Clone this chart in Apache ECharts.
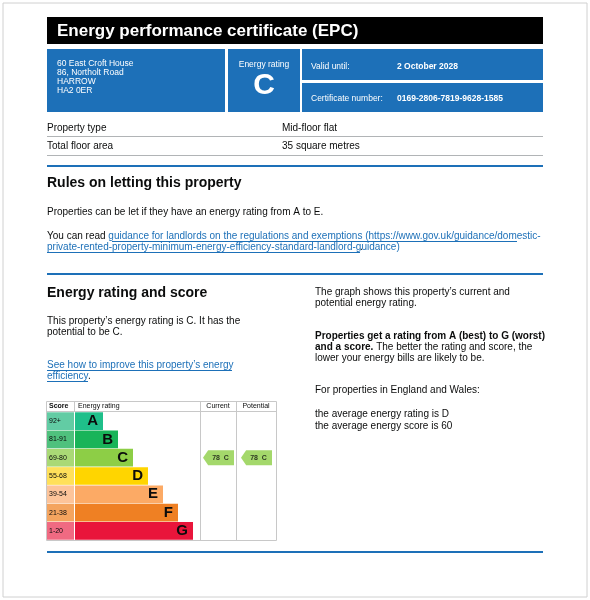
<!DOCTYPE html>
<html><head><meta charset="utf-8">
<script src="https://cdn.jsdelivr.net/npm/echarts@6/dist/echarts.min.js"></script>
<style>html,body{margin:0;padding:0;background:#fff}#c{width:590px;height:600px}</style>
</head><body><div id="c"></div>
<script>
const bands = ['A','B','C','D','E','F','G'];
const scores = ['92+','81-91','69-80','55-68','39-54','21-38','1-20'];
const barLengths = [28,43,58,73,88,103,118];
const bandColors = ['#1fbf8a','#19b459','#8dce46','#ffd500','#fcaa65','#ef8023','#e9153b'];
const scoreColors = ['#62cca4','#4fc17d','#aad976','#ffe05a','#fdc49a','#f4a45f','#f06a82'];
const currentRating = {band:'C', score:78};
const potentialRating = {band:'C', score:78};

const F = 'Liberation Sans, Arial, sans-serif';
const blue = '#1d70b8';
function T(x,y,text,size,opt){opt=opt||{};return {type:'text',x:x,y:y,style:Object.assign({text:text,font:(opt.bold?'bold ':'')+size+'px '+F,fill:opt.fill||'#0b0c0c',textVerticalAlign:'middle',textAlign:opt.align||'left'},opt.rich?{rich:opt.rich}:{})}; }
function R(x,y,w,h,fill,stroke){return {type:'rect',shape:{x:x,y:y,width:w,height:h},style:{fill:fill||'none',stroke:stroke||null,lineWidth:1}};}
function L(x1,y1,x2,y2,c,w){return {type:'line',shape:{x1:x1,y1:y1,x2:x2,y2:y2},style:{stroke:c,lineWidth:w||1}};}

const g = [
  R(3,3,584,594,'none','#d0d0d0'),
  R(47,17,496,27,'#000'),
  T(57,31,'Energy performance certificate (EPC)',17,{bold:1,fill:'#fff'}),
  R(47,49,178,63,blue), R(228,49,72,63,blue), R(302,49,241,31,blue), R(302,83,241,29,blue),
  T(57,64,'60 East Croft House',8.5,{fill:'#fff'}),
  T(57,73,'86, Northolt Road',8.5,{fill:'#fff'}),
  T(57,82,'HARROW',8.5,{fill:'#fff'}),
  T(57,91,'HA2 0ER',8.5,{fill:'#fff'}),
  T(264,65,'Energy rating',8.5,{fill:'#fff',align:'center'}),
  T(264,86,'C',30,{bold:1,fill:'#fff',align:'center'}),
  T(311,67,'Valid until:',8.5,{fill:'#fff'}),
  T(397,67,'2 October 2028',8.5,{fill:'#fff',bold:1}),
  T(311,99,'Certificate number:',8.5,{fill:'#fff'}),
  T(397,99,'0169-2806-7819-9628-1585',8.5,{fill:'#fff',bold:1}),
  T(47,128,'Property type',10), T(282,128,'Mid-floor flat',10),
  L(47,136.5,543,136.5,'#b1b4b6'),
  T(47,146,'Total floor area',10), T(282,146,'35 square metres',10),
  L(47,155.5,543,155.5,'#b1b4b6'),
  L(47,166,543,166,blue,2),
  T(47,183,'Rules on letting this property',14,{bold:1}),
  T(47,212,'Properties can be let if they have an energy rating from A to E.',10),
  T(47,236,'You can read {l|guidance for landlords on the regulations and exemptions (https://www.gov.uk/guidance/domestic-}',10,{rich:{l:{fill:blue,font:'10px '+F}}}),
  L(112,241.5,517,241.5,blue),
  T(47,247,'private-rented-property-minimum-energy-efficiency-standard-landlord-guidance)',10,{fill:blue}),
  T(360,247,'.',10),
  L(47,252.5,360,252.5,blue),
  L(47,274,543,274,blue,2),
  T(47,293,'Energy rating and score',14,{bold:1}),
  T(47,321,'This property\u2019s energy rating is C. It has the',10),
  T(47,332,'potential to be C.',10),
  T(47,365,'See how to improve this property\u2019s energy',10,{fill:blue}),
  L(47,370.5,232,370.5,blue),
  T(47,376,'efficiency',10,{fill:blue}), T(88,376,'.',10),
  L(47,381.5,88,381.5,blue),
  T(315,292,'The graph shows this property\u2019s current and',10),
  T(315,303,'potential energy rating.',10),
  T(315,336,'Properties get a rating from A (best) to G (worst)',10,{bold:1}),
  T(315,347,'{b|and a score.} The better the rating and score, the',10,{rich:{b:{font:'bold 10px '+F,fill:'#0b0c0c'}}}),
  T(315,358,'lower your energy bills are likely to be.',10),
  T(315,390,'For properties in England and Wales:',10),
  T(315,414,'the average energy rating is D',10),
  T(315,426,'the average energy score is 60',10),
  L(47,552,543,552,blue,2),
  R(46.5,401.5,230,139,'none','#c8c8c8'),
  L(46.5,411.5,276.5,411.5,'#c8c8c8'),
  L(200.5,401.5,200.5,540.5,'#c8c8c8'),
  L(236.5,401.5,236.5,540.5,'#c8c8c8'),
  L(74.5,401.5,74.5,411.5,'#c8c8c8'),
  T(49,406.5,'Score',7,{bold:1}), T(78,406.5,'Energy rating',7),
  T(218,406.5,'Current',7,{align:'center'}), T(256,406.5,'Potential',7,{align:'center'})
];

const gridTop = 412, gridH = 128;
const arrow = 'path://M0,5 L5,0 L30,0 L30,10 L5,10 Z';
function arrowData(r){return [[0.5, r.band, r.score+'  '+r.band]];}
const opt = {
  animation:false,
  graphic:{elements:g},
  grid:[
    {left:47,width:27,top:gridTop,height:gridH},
    {left:75,width:120,top:gridTop,height:gridH},
    {left:201,width:35,top:gridTop,height:gridH},
    {left:237,width:39,top:gridTop,height:gridH}
  ],
  xAxis:[0,1,2,3].map(i=>({type:'value',gridIndex:i,min:0,max:i==1?120:1,show:false})),
  yAxis:[0,1,2,3].map(i=>({type:'category',gridIndex:i,data:bands,inverse:true,show:false})),
  series:[
    {type:'bar',xAxisIndex:0,yAxisIndex:0,barCategoryGap:'3%',
     data:scores.map((s,i)=>({value:1,itemStyle:{color:scoreColors[i]}})),
     label:{show:true,position:'insideLeft',offset:[-3,0],formatter:p=>scores[p.dataIndex],fontSize:7,color:'#0b0c0c',fontFamily:F}},
    {type:'bar',xAxisIndex:1,yAxisIndex:1,barCategoryGap:'3%',
     data:barLengths.map((v,i)=>({value:v,itemStyle:{color:bandColors[i]}})),
     label:{show:true,position:'insideRight',formatter:p=>bands[p.dataIndex],fontSize:15,fontWeight:'bold',color:'#0b0c0c',fontFamily:F}},
    ...[[2,currentRating],[3,potentialRating]].map(([i,r])=>({type:'scatter',xAxisIndex:i,yAxisIndex:i,
      symbol:arrow,symbolSize:[31,15],itemStyle:{color:bandColors[bands.indexOf(r.band)]},
      data:arrowData(r),
      label:{show:true,position:'inside',offset:[2,0],formatter:p=>p.value[2],fontSize:7,fontWeight:'bold',color:'#0b0c0c',fontFamily:F}}))
  ]
};
const chart = echarts.init(document.getElementById('c'),null,{renderer:'canvas'});
chart.setOption(opt);
</script></body></html>
